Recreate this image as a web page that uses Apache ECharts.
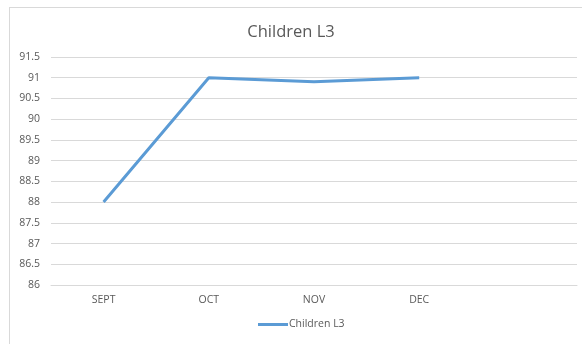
<!DOCTYPE html>
<html lang="en">
<head>
    <meta charset="UTF-8">
    <title>Children L3</title>
    <script src="https://cdn.jsdelivr.net/npm/echarts@6/dist/echarts.min.js"></script>
    <style>
        html, body { margin: 0; padding: 0; background: #fff; }
        #frame { position: absolute; left: 9px; top: 7px; width: 575px; height: 345px; border: 1px solid #d9d9d9; box-sizing: border-box; }
        #main { position: absolute; left: 0; top: 0; width: 582px; height: 344px; }
    </style>
</head>
<body>
<div id="frame"></div>
<div id="main"></div>
<script>
    // chart data
    var months = ['SEPT', 'OCT', 'NOV', 'DEC', ''];
    var scores = [88, 91, 90.9, 91, null];
    var seriesName = 'Children L3';

    var myChart = echarts.init(document.getElementById('main'));
    var option = {
        animation: false,
        textStyle: { fontFamily: 'Open Sans, sans-serif' },
        title: {
            text: 'Children L3',
            left: 'center',
            top: 19,
            textStyle: { fontSize: 16.5, fontWeight: 'normal', color: '#595959' }
        },
        legend: {
            data: [seriesName],
            bottom: 9,
            left: 253,
            itemWidth: 30,
            itemHeight: 3,
            itemGap: 2,
            icon: 'rect',
            textStyle: { fontSize: 10.5, color: '#595959', padding: [0, 0, 0, -4] }
        },
        grid: { left: 51, right: 5, top: 57, bottom: 59, containLabel: false },
        xAxis: {
            type: 'category',
            data: months,
            boundaryGap: true,
            axisLine: { show: true, lineStyle: { color: '#d9d9d9' } },
            axisTick: { show: false },
            axisLabel: { color: '#595959', fontSize: 10.5, margin: 10 }
        },
        yAxis: {
            type: 'value',
            min: 86,
            max: 91.5,
            interval: 0.5,
            axisLine: { show: false },
            axisTick: { show: false },
            axisLabel: { color: '#595959', fontSize: 10.5, margin: 11 },
            splitLine: { lineStyle: { color: '#d9d9d9' } }
        },
        series: [
            {
                name: seriesName,
                type: 'line',
                data: scores,
                symbol: 'none',
                lineStyle: { color: '#5b9bd5', width: 3 },
                itemStyle: { color: '#5b9bd5' }
            }
        ]
    };
    myChart.setOption(option);
</script>
</body>
</html>
